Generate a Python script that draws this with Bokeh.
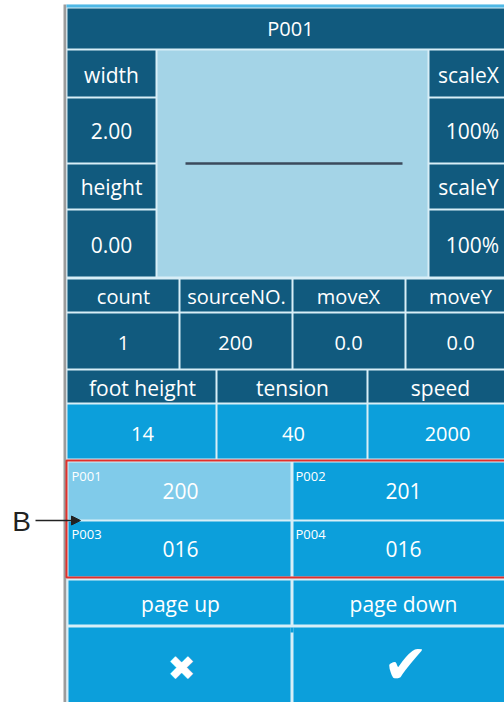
from bokeh.plotting import figure
from bokeh.models import Range1d, ColumnDataSource, Arrow, NormalHead
from bokeh.core.properties import value
from bokeh.embed import file_html
from bokeh.resources import INLINE

# ---- content (texts / values) ----
title = "P001"
left_labels = ["width", "height"]
left_values = ["2.00", "0.00"]
right_labels = ["scaleX", "scaleY"]
right_values = ["100%", "100%"]
row3_labels = ["count", "sourceNO.", "moveX", "moveY"]
row3_values = ["1", "200", "0.0", "0.0"]
row4_labels = ["foot height", "tension", "speed"]
row4_values = ["14", "40", "2000"]
pattern_ids = ["P001", "P002", "P003", "P004"]
pattern_values = ["200", "201", "016", "016"]
page_buttons = ["page up", "page down"]
action_buttons = ["\u2716", "\u2714"]
marker_label = "B"

# ---- styles ----
DARK = "#115a7e"
PREVIEW = "#a4d4e7"
BRIGHT = "#0c9fdb"
SELECTED = "#80cbea"
SEP = "#d8eef7"
GRAY = "#9c9c9c"
RED = "#e0302c"
FONT = "Open Sans"

p = figure(width=504, height=702, output_backend="svg", toolbar_location=None,
           x_range=Range1d(0, 504), y_range=Range1d(702, 0),
           min_border=0, background_fill_color="white", border_fill_color="white")
p.axis.visible = False
p.grid.visible = False
p.outline_line_color = None

rects = dict(l=[], r=[], t=[], b=[], c=[])


def box(x0, x1, y0, y1, c):
    rects["l"].append(x0); rects["r"].append(x1)
    rects["t"].append(y0); rects["b"].append(y1); rects["c"].append(c)


R = 513
# frame
box(63, 66, 4, 702, GRAY)
box(66, R, 4, 702, SEP)
box(66, R, 4, 7, "#4fb8e6")
# header
box(67, R, 8, 48, DARK)
# side columns
side_rows = [(50, 96), (98, 162), (164, 208), (210, 276)]
for y0, y1 in side_rows:
    box(67, 155, y0, y1, DARK)
    box(429, R, y0, y1, DARK)
box(157, 427, 50, 276, PREVIEW)
# row 3
c3 = [(67, 178), (180, 291), (293, 404), (406, R)]
for x0, x1 in c3:
    box(x0, x1, 279, 311, DARK)
    box(x0, x1, 313, 368, DARK)
# row 4
c4 = [(67, 215), (217, 366), (368, R)]
for x0, x1 in c4:
    box(x0, x1, 370, 402, DARK)
    box(x0, x1, 404, 458, BRIGHT)
# pattern grid
cp = [(68, 290), (293, R)]
rp = [(462, 519), (521, 576)]
k = 0
for y0, y1 in rp:
    for x0, x1 in cp:
        box(x0, x1, y0, y1, SELECTED if k == 0 else BRIGHT)
        k += 1
for x0, x1 in cp:
    box(x0, x1, 580, 624, BRIGHT)
    box(x0, x1, 627, 702, BRIGHT)
box(290, 293, 627, 632, BRIGHT)

src = ColumnDataSource(rects)
p.quad(left="l", right="r", top="t", bottom="b", fill_color="c", line_color=None, source=src)

# red selection frame
p.quad(left=[66], right=[R + 5], top=[460], bottom=[577], fill_color=None,
       line_color=RED, line_width=2)

# preview stitch line
p.line(x=[185, 402], y=[163, 163], line_color="#3b4a5c", line_width=2.5)


def texts(xs, ys, labels, size, align="center", font=FONT, color="white"):
    s = ColumnDataSource(dict(x=xs, y=ys, t=labels))
    p.text(x="x", y="y", text="t", source=s, text_color=color,
           text_font=value(font), text_font_size=size,
           text_align=align, text_baseline="middle")


texts([290], [28], [title], "20px")
texts([111, 111], [74, 186], left_labels, "21px")
texts([111, 111], [130, 244], left_values, "21px")
texts([468, 468], [74, 186], right_labels, "21px")
texts([472, 472], [130, 244], right_values, "21px")
texts([123, 236, 348, 460], [296] * 4, row3_labels, "20px")
texts([123, 235, 348, 460], [342] * 4, row3_values, "20px")
texts([142, 292, 440], [387] * 3, row4_labels, "21px")
texts([142, 293, 447], [433] * 3, row4_values, "20px")
texts([180, 403, 180, 403], [490, 490, 548, 548], pattern_values, "21px")
texts([71, 295, 71, 295], [475, 475, 533, 533], pattern_ids, "13px", align="left")
texts([180, 403], [603, 603], page_buttons, "21px")
texts([181], [667], [action_buttons[0]], "34px", font="DejaVu Sans")
texts([405], [664], [action_buttons[1]], "54px", font="DejaVu Sans")
texts([21], [521], [marker_label], "28px", font="Liberation Sans", color="#222222")

p.add_layout(Arrow(x_start=35, y_start=520, x_end=80, y_end=520,
                   line_color="#222222", line_width=1.5,
                   end=NormalHead(size=9, fill_color="#222222", line_color="#222222")))

open("out.html", "w").write(file_html(p, INLINE))
